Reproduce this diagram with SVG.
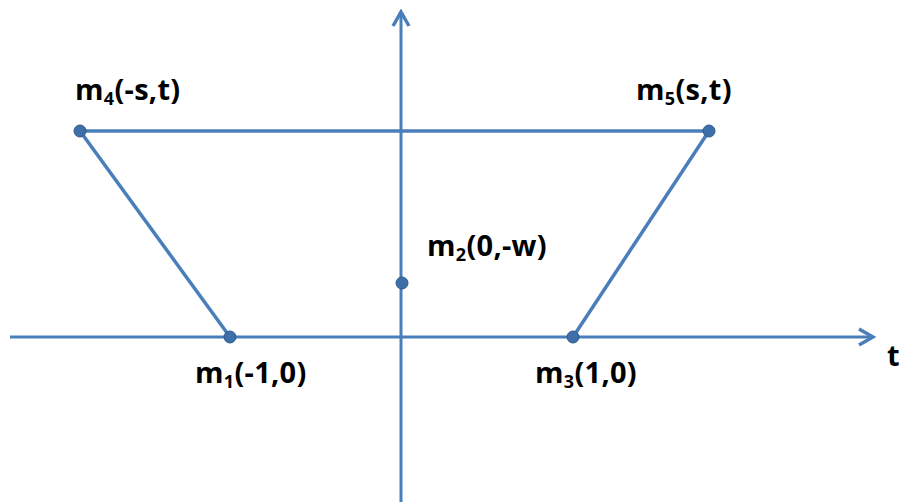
<svg xmlns="http://www.w3.org/2000/svg" width="908" height="502" viewBox="0 0 908 502">
<style>
.ax{stroke:#4a7ebb;stroke-width:3;fill:none}
.ln{stroke:#4a7ebb;stroke-width:3.5;fill:none}
.pt{fill:#3f6fa8;stroke:#2e5a8e;stroke-width:1}
.lb{font-family:"Open Sans","Liberation Sans",sans-serif;font-weight:bold;font-size:29px;fill:#000;letter-spacing:0.3px}
.sb{font-size:18px}
</style>
<defs>
<marker id="arr" viewBox="0 0 20 20" refX="17" refY="10" markerWidth="20" markerHeight="20" markerUnits="userSpaceOnUse" orient="auto">
<path d="M3,2 L17,10 L3,18" fill="none" stroke="#4a7ebb" stroke-width="3.5" stroke-linejoin="miter"/>
</marker>
</defs>
<rect width="908" height="502" fill="#fff"/>
<g id="connectors">
<line class="ax" x1="401" y1="502" x2="401" y2="12" marker-end="url(#arr)"/>
<line class="ax" x1="10" y1="337" x2="873" y2="337" marker-end="url(#arr)"/>
<line class="ln" x1="80" y1="131" x2="709" y2="131"/>
<line class="ln" x1="80" y1="131" x2="230" y2="337"/>
<line class="ln" x1="709" y1="131" x2="573" y2="337"/>
</g>
<g id="m4"><circle class="pt" cx="80" cy="131" r="6"/><text class="lb" x="75" y="100">m<tspan class="sb" dy="5">4</tspan><tspan dy="-5">(-s,t)</tspan></text></g>
<g id="m5"><circle class="pt" cx="709" cy="131" r="6"/><text class="lb" x="636" y="100">m<tspan class="sb" dy="5">5</tspan><tspan dy="-5">(s,t)</tspan></text></g>
<g id="m2"><circle class="pt" cx="402" cy="283" r="6"/><text class="lb" x="427" y="256">m<tspan class="sb" dy="5">2</tspan><tspan dy="-5">(0,-w)</tspan></text></g>
<g id="m1"><circle class="pt" cx="230" cy="337" r="6"/><text class="lb" x="195" y="383">m<tspan class="sb" dy="5">1</tspan><tspan dy="-5">(-1,0)</tspan></text></g>
<g id="m3"><circle class="pt" cx="573" cy="337" r="6"/><text class="lb" x="535" y="383">m<tspan class="sb" dy="5">3</tspan><tspan dy="-5">(1,0)</tspan></text></g>
<g id="t-label"><text class="lb" x="887" y="366">t</text></g>
</svg>
